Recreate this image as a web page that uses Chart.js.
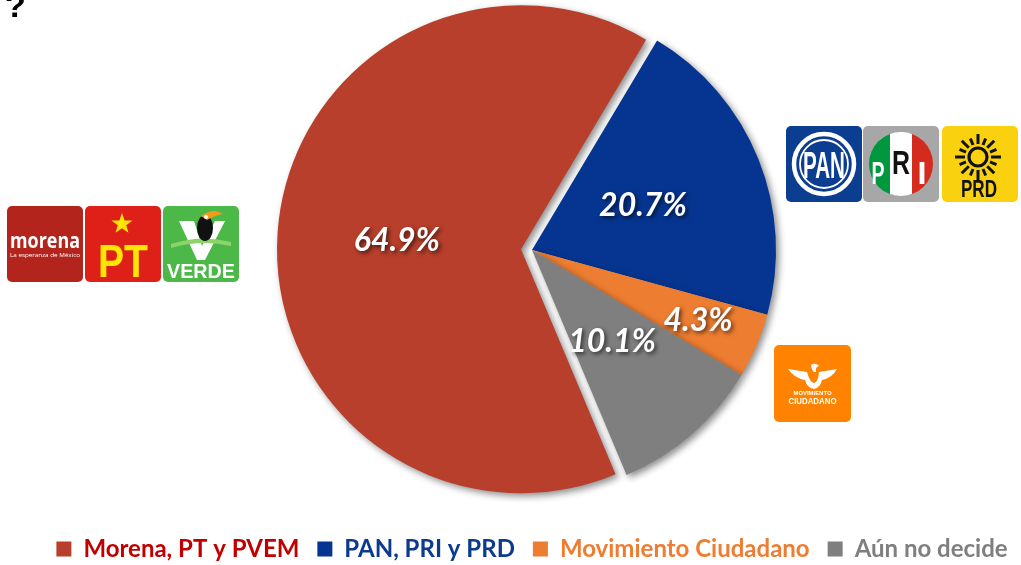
<!DOCTYPE html>
<html>
<head>
<meta charset="utf-8">
<script src="https://cdn.jsdelivr.net/npm/chart.js@4.4.1/dist/chart.umd.min.js"></script>
<style>
html,body{margin:0;padding:0;background:#fff;}
#wrap{position:relative;width:1021px;height:565px;overflow:hidden;background:#fff;}
#c{position:absolute;left:0;top:-19px;}
.logo{position:absolute;}
</style>
</head>
<body>
<div id="wrap">
<canvas id="c" width="1064" height="590"></canvas>

<svg class="logo" style="left:0;top:0" width="40" height="30">
  <text x="5" y="17" font-family="Liberation Sans" font-weight="bold" font-size="34" fill="#000">?</text>
</svg>

<!-- Morena -->
<svg class="logo" style="left:7px;top:206px" width="76" height="76">
  <rect width="76" height="76" rx="5" fill="#B3241C"/>
  <text x="38" y="42" text-anchor="middle" font-family="Open Sans" font-weight="bold" font-size="21" fill="#fff" textLength="70" lengthAdjust="spacingAndGlyphs">morena</text>
  <text x="38" y="51" text-anchor="middle" font-family="Open Sans" font-size="5.5" fill="#fff" textLength="70" lengthAdjust="spacingAndGlyphs">La esperanza de México</text>
</svg>

<!-- PT -->
<svg class="logo" style="left:85px;top:206px" width="76" height="76">
  <rect width="76" height="76" rx="5" fill="#DE2019"/>
  <polygon points="37,7 39.6,14.5 47.5,14.6 41.2,19.3 43.5,26.8 37,22.3 30.5,26.8 32.8,19.3 26.5,14.6 34.4,14.5" fill="#FFE500"/>
  <text x="38" y="71" text-anchor="middle" font-family="Liberation Sans" font-weight="bold" font-size="47" fill="#FFE500" textLength="50" lengthAdjust="spacingAndGlyphs">PT</text>
</svg>

<!-- VERDE -->
<svg class="logo" style="left:163px;top:206px" width="76" height="76">
  <rect width="76" height="76" rx="5" fill="#4CB848"/>
  <polygon points="16,15 31,15 39,40 52,15 62,15 42,54 34,54" fill="#fff"/>
  <path d="M8,38 Q38,28 68,36 L68,40 Q38,33 8,42 Z" fill="#8ED36A"/>
  <ellipse cx="42" cy="22" rx="8" ry="13" fill="#111"/>
  <path d="M38,10 Q50,1 60,8 Q52,9 44,14 Z" fill="#F39A1C"/>
  <circle cx="43" cy="11" r="2" fill="#fff"/>
  <text x="38" y="72" text-anchor="middle" font-family="Liberation Sans" font-weight="bold" font-size="21" fill="#fff" textLength="68" lengthAdjust="spacingAndGlyphs">VERDE</text>
</svg>

<!-- PAN -->
<svg class="logo" style="left:786px;top:126px" width="76" height="76">
  <rect width="76" height="76" rx="5" fill="#0B3D91"/>
  <circle cx="38" cy="38" r="30" fill="none" stroke="#fff" stroke-width="4.5"/>
  <circle cx="38" cy="38" r="24" fill="none" stroke="#fff" stroke-width="1.8"/>
  <text x="38" y="52" text-anchor="middle" font-family="Liberation Sans" font-weight="bold" font-size="36" fill="#fff" textLength="42" lengthAdjust="spacingAndGlyphs">PAN</text>
</svg>

<!-- PRI -->
<svg class="logo" style="left:863px;top:126px" width="76" height="76">
  <defs><clipPath id="priC"><circle cx="38" cy="38" r="32"/></clipPath></defs>
  <rect width="76" height="76" rx="5" fill="#A7A7A7"/>
  <g clip-path="url(#priC)">
    <rect x="0" y="0" width="27" height="76" fill="#00973F"/>
    <rect x="27" y="0" width="22" height="76" fill="#fff"/>
    <rect x="49" y="0" width="27" height="76" fill="#D52B1E"/>
  </g>
  <text x="15" y="58" text-anchor="middle" font-family="Liberation Sans" font-weight="bold" font-size="32" fill="#fff" textLength="13" lengthAdjust="spacingAndGlyphs">P</text>
  <text x="38" y="48" text-anchor="middle" font-family="Liberation Sans" font-weight="bold" font-size="34" fill="#111" textLength="18" lengthAdjust="spacingAndGlyphs">R</text>
  <text x="59" y="58" text-anchor="middle" font-family="Liberation Sans" font-weight="bold" font-size="32" fill="#fff" textLength="9" lengthAdjust="spacingAndGlyphs">I</text>
</svg>

<!-- PRD -->
<svg class="logo" style="left:942px;top:126px" width="76" height="76">
  <rect width="76" height="76" rx="5" fill="#F9D10E"/>
  <circle cx="36" cy="31" r="9" fill="none" stroke="#111" stroke-width="3.2"/>
  <g id="rays" stroke="#111" stroke-width="3" stroke-linecap="butt"></g>
  <text x="37" y="71" text-anchor="middle" font-family="Liberation Sans" font-weight="bold" font-size="24" fill="#111" textLength="36" lengthAdjust="spacingAndGlyphs">PRD</text>
</svg>

<!-- Movimiento Ciudadano -->
<svg class="logo" style="left:774px;top:345px" width="77" height="77">
  <rect width="77" height="77" rx="5" fill="#FF8300"/>
  <path d="M14,24 L33,27 Q36,38 40,38 Q44,38 45,27 L63,24 Q58,33 48,35 Q46,43 40,44 Q33,43 31,35 Q20,33 14,24 Z" fill="#fff"/>
  <path d="M37,20 Q42,17 45,21 Q41,22 42,27 Q38,28 37,20 Z" fill="#fff"/>
  <text x="38.5" y="50" text-anchor="middle" font-family="Liberation Sans" font-weight="bold" font-size="6" fill="#fff" textLength="38" lengthAdjust="spacingAndGlyphs">MOVIMIENTO</text>
  <text x="38.5" y="59" text-anchor="middle" font-family="Liberation Sans" font-weight="bold" font-size="9" fill="#fff" textLength="48" lengthAdjust="spacingAndGlyphs">CIUDADANO</text>
</svg>
</div>

<script>
// ---------- DATA ----------
const categories = ['Morena, PT y PVEM', 'PAN, PRI y PRD', 'Movimiento Ciudadano', 'Aún no decide'];
const values = [64.9, 20.7, 4.3, 10.1];
const valueLabels = ['64.9%', '20.7%', '4.3%', '10.1%'];

// ---------- STYLE ----------
const sliceColors = ['#B73F2B', '#063591', '#ED7D31', '#7F7F7F'];
const legendTextColors = ['#C00000', '#0B3A8F', '#ED7D31', '#7F7F7F'];
const labelRadiusFractions = [0.51, 0.49, 0.74, 0.50];
const explodedIndex = 0;
const explodeDistance = 11;

// sun rays for PRD logo (decoration)
(function(){
  const g = document.getElementById('rays');
  for (let k = 0; k < 16; k++) {
    const a = k * Math.PI * 2 / 16;
    const l = document.createElementNS('http://www.w3.org/2000/svg', 'line');
    l.setAttribute('x1', 36 + Math.cos(a) * 13); l.setAttribute('y1', 31 + Math.sin(a) * 13);
    l.setAttribute('x2', 36 + Math.cos(a) * (k % 2 ? 20 : 23)); l.setAttribute('y2', 31 + Math.sin(a) * (k % 2 ? 20 : 23));
    g.appendChild(l);
  }
})();

const explodePlugin = {
  id: 'explode',
  afterDatasetUpdate(chart, args) {
    const el = args.meta.data[explodedIndex];
    if (!el) return;
    const mid = (el.startAngle + el.endAngle) / 2;
    el.x += Math.cos(mid) * explodeDistance;
    el.y += Math.sin(mid) * explodeDistance;
  }
};

const shadowPlugin = {
  id: 'sliceShadow',
  beforeDatasetDraw(chart) {
    const ctx = chart.ctx;
    ctx.save();
    ctx.shadowColor = 'rgba(0,0,0,0.45)';
    ctx.shadowBlur = 7;
    ctx.shadowOffsetX = 3;
    ctx.shadowOffsetY = 3;
  },
  afterDatasetDraw(chart) { chart.ctx.restore(); }
};

const labelPlugin = {
  id: 'sliceLabels',
  afterDatasetsDraw(chart) {
    const ctx = chart.ctx;
    const meta = chart.getDatasetMeta(0);
    meta.data.forEach((el, i) => {
      const mid = (el.startAngle + el.endAngle) / 2;
      const r = el.outerRadius * labelRadiusFractions[i];
      const x = el.x + Math.cos(mid) * r;
      const y = el.y + Math.sin(mid) * r;
      ctx.save();
      ctx.font = 'italic bold 32px Lato';
      ctx.textAlign = 'center';
      ctx.textBaseline = 'middle';
      ctx.shadowColor = 'rgba(0,0,0,0.65)';
      ctx.shadowBlur = 4;
      ctx.shadowOffsetX = 2;
      ctx.shadowOffsetY = 2;
      ctx.fillStyle = '#ffffff';
      ctx.fillText(valueLabels[i], x, y);
      ctx.restore();
    });
  }
};

function build() {
  new Chart(document.getElementById('c'), {
    type: 'pie',
    data: {
      labels: categories,
      datasets: [{
        data: values,
        backgroundColor: sliceColors,
        borderWidth: 0
      }]
    },
    plugins: [explodePlugin, shadowPlugin, labelPlugin],
    options: {
      responsive: false,
      animation: false,
      events: [],
      rotation: 157.2,
      radius: 244,
      layout: { padding: 0 },
      plugins: {
        tooltip: { enabled: false },
        legend: {
          position: 'bottom',
          labels: {
            boxWidth: 15,
            boxHeight: 15,
            padding: 18,
            font: { family: 'Lato', size: 24, weight: 'bold' },
            generateLabels: (chart) => chart.data.labels.map((t, i) => ({
              text: t,
              fillStyle: sliceColors[i],
              strokeStyle: sliceColors[i],
              lineWidth: 0,
              fontColor: legendTextColors[i],
              hidden: false,
              index: i
            }))
          }
        }
      }
    }
  });
}

Promise.all([
  document.fonts.load('bold 24px Lato'),
  document.fonts.load('italic bold 32px Lato')
]).then(build, build);
</script>
</body>
</html>
